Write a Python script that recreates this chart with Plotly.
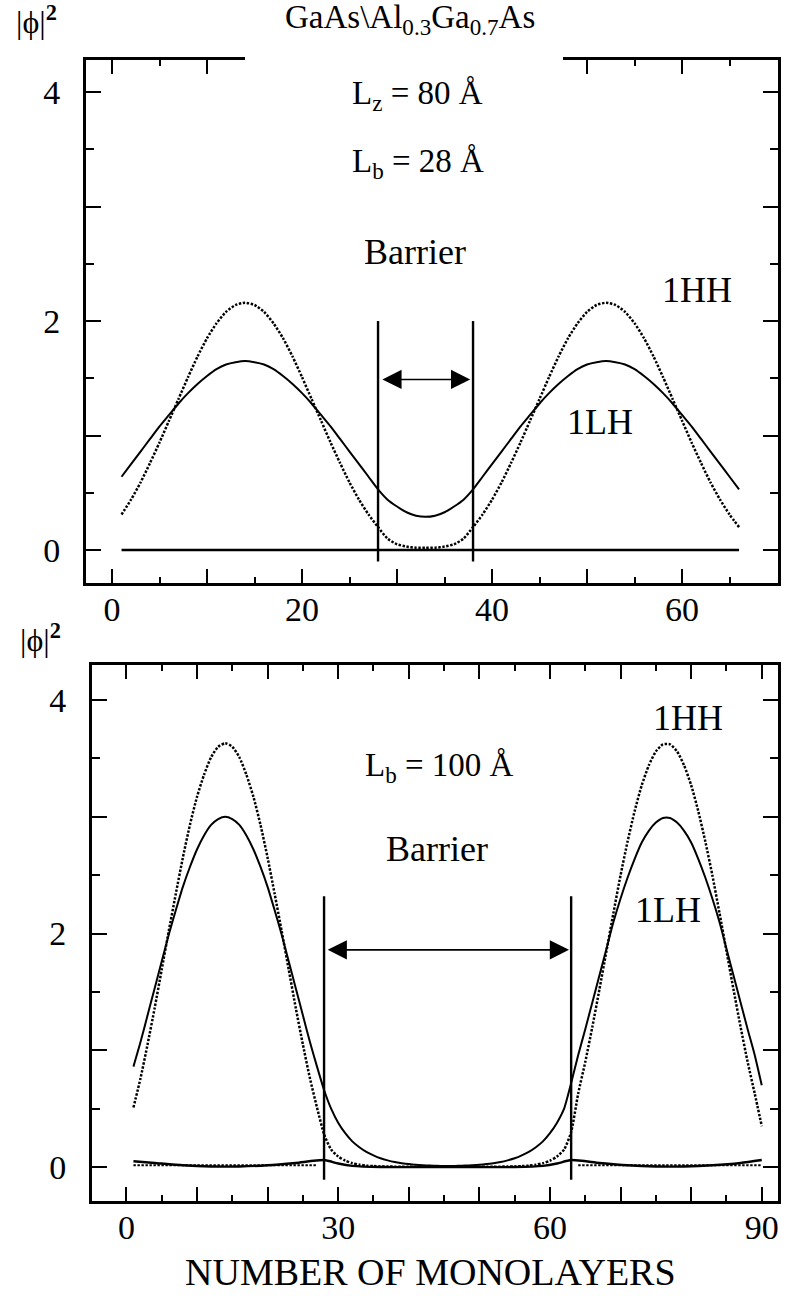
import plotly.graph_objects as go

# ---------------- data ----------------
top_x = list(range(1, 67))
top_lh = [0.64,0.75,0.86,0.97,1.08,1.18,1.28,1.37,1.45,1.52,1.58,1.62,1.64,1.65,1.64,1.62,1.58,1.52,1.45,1.37,1.28,1.18,1.08,0.97,0.86,0.75,0.64,0.53,
          0.44,0.38,0.33,0.30,0.29,0.30,0.33,0.38,0.44,
          0.53,0.64,0.75,0.86,0.97,1.08,1.18,1.28,1.37,1.45,1.52,1.58,1.62,1.64,1.65,1.64,1.62,1.58,1.52,1.45,1.37,1.28,1.18,1.08,0.97,0.86,0.75,0.64,0.53]
top_hh = [0.31,0.44,0.59,0.76,0.94,1.13,1.32,1.51,1.69,1.85,1.98,2.08,2.14,2.16,2.14,2.08,1.98,1.85,1.69,1.51,1.32,1.13,0.94,0.76,0.59,0.44,0.31,0.20,
          0.10,0.05,0.03,0.02,0.02,0.02,0.03,0.05,0.10,
          0.20,0.31,0.44,0.59,0.76,0.94,1.13,1.32,1.51,1.69,1.85,1.98,2.08,2.14,2.16,2.14,2.08,1.98,1.85,1.69,1.51,1.32,1.13,0.94,0.76,0.59,0.44,0.31,0.20]
top_base_x = [1, 66]
top_base_y = [0.0, 0.0]
top_barrier_x = [28, 38]
top_barrier_y = [-0.1, 2.0]
top_arrow_y = 1.49

bot_x = list(range(1, 91))
bot_lh = [0.86,1.07,1.30,1.53,1.76,1.99,2.20,2.40,2.57,2.72,2.84,2.93,2.98,3.00,2.98,2.93,2.84,2.72,2.57,2.40,2.20,1.99,1.76,1.53,1.30,1.07,0.86,0.66,
          0.50,0.38,0.29,0.22,0.17,0.13,0.10,0.075,0.057,0.043,0.033,0.025,0.019,0.015,0.012,0.010,0.009,
          0.009,0.010,0.012,0.015,0.019,0.025,0.033,0.043,0.057,0.075,0.10,0.13,0.17,0.22,0.29,0.38,0.50,
          0.72,0.96,1.18,1.41,1.64,1.87,2.10,2.30,2.48,2.64,2.78,2.88,2.95,2.99,2.99,2.95,2.88,2.78,2.64,2.48,2.30,2.10,1.87,1.64,1.41,1.18,0.96,0.70]
bot_hh = [0.51,0.76,1.05,1.36,1.69,2.02,2.34,2.65,2.93,3.17,3.36,3.51,3.60,3.63,3.60,3.51,3.36,3.17,2.93,2.65,2.34,2.02,1.69,1.36,1.05,0.76,0.51,0.28,
          0.15,0.09,0.055,0.033,0.02,0.012,0.008,0.005,0.004,
          0.003,0.003,0.003,0.003,0.003,0.003,0.003,0.003,0.003,0.003,0.003,0.003,0.003,0.003,0.003,0.003,
          0.004,0.005,0.008,0.012,0.02,0.033,0.055,0.09,0.15,
          0.30,0.63,0.90,1.20,1.52,1.85,2.18,2.50,2.79,3.05,3.27,3.44,3.56,3.62,3.62,3.56,3.44,3.27,3.05,2.79,2.50,2.18,1.85,1.52,1.20,0.90,0.63,0.35]
bot_base_x = [1, 4, 8, 12, 16, 20, 24, 28, 30, 32, 36, 45, 55, 59, 61, 63, 67, 71, 75, 79, 83, 87, 90]
bot_base_y = [0.05, 0.035, 0.015, 0.005, 0.005, 0.015, 0.035, 0.06, 0.03, 0.01, 0.0, 0.0, 0.0, 0.01, 0.03, 0.06, 0.035, 0.015, 0.005, 0.005, 0.015, 0.035, 0.06]
bot_dbase_x = [1, 27, None, 64, 90]
bot_dbase_y = [0.015, 0.015, None, 0.015, 0.015]
bot_barrier_x = [28, 63]
bot_barrier_y = [-0.11, 2.32]
bot_arrow_y = 1.86

top_xticks = [0, 10, 20, 30, 40, 50, 60]
top_xlabels = ["0", "", "20", "", "40", "", "60"]
bot_xticks = [0, 10, 20, 30, 40, 50, 60, 70, 80, 90]
bot_xlabels = ["0", "", "", "30", "", "", "60", "", "", "90"]
yticks = [0, 1, 2, 3, 4]
ylabels = ["0", "", "2", "", "4"]

FONT = "Liberation Serif, Times New Roman, DejaVu Serif, serif"
W, H = 792, 1296
DOT = "2.4px,1.6px"

fig = go.Figure()

def add_panel(xa, ya, x, lh, hh, bx, by, barx, bary):
    fig.add_trace(go.Scatter(x=x, y=hh, mode="lines", line=dict(color="black", width=2.5, dash=DOT, shape="spline", smoothing=0.6),
                             xaxis=xa, yaxis=ya, showlegend=False))
    fig.add_trace(go.Scatter(x=x, y=lh, mode="lines", line=dict(color="black", width=2.0, shape="spline", smoothing=0.6),
                             xaxis=xa, yaxis=ya, showlegend=False))
    fig.add_trace(go.Scatter(x=bx, y=by, mode="lines", line=dict(color="black", width=2.4, shape="spline", smoothing=0.6),
                             xaxis=xa, yaxis=ya, showlegend=False))
    for bxv in barx:
        fig.add_trace(go.Scatter(x=[bxv, bxv], y=bary, mode="lines", line=dict(color="black", width=2.4),
                                 xaxis=xa, yaxis=ya, showlegend=False))

add_panel("x", "y", top_x, top_lh, top_hh, top_base_x, top_base_y, top_barrier_x, top_barrier_y)
add_panel("x2", "y2", bot_x, bot_lh, bot_hh, bot_base_x, bot_base_y, bot_barrier_x, bot_barrier_y)
fig.add_trace(go.Scatter(x=bot_dbase_x, y=bot_dbase_y, mode="lines", line=dict(color="black", width=2.2, dash=DOT),
                         xaxis="x2", yaxis="y2", showlegend=False))

def px(xp):
    return xp / W

def py(yp):
    return 1 - yp / H

tickfont = dict(family=FONT, size=34, color="black")

def xaxis_cfg(dom, rng, tv, tt, anchor):
    return dict(domain=dom, range=rng, anchor=anchor, tickmode="array", tickvals=tv, ticktext=tt,
                ticks="inside", ticklen=14, tickwidth=2, tickcolor="black",
                minor=dict(tickvals=[v + 5 for v in tv], ticks="inside", ticklen=6, tickwidth=2, tickcolor="black", showgrid=False),
                showline=True, linewidth=3, linecolor="black", mirror="ticks", showgrid=False, zeroline=False,
                tickfont=tickfont, ticklabelstandoff=-6)

def yaxis_cfg(dom, rng, anchor):
    return dict(domain=dom, range=rng, anchor=anchor, tickmode="array", tickvals=yticks, ticktext=ylabels,
                ticks="inside", ticklen=15, tickwidth=2, tickcolor="black",
                minor=dict(tickvals=[0.5, 1.5, 2.5, 3.5], ticks="inside", ticklen=8, tickwidth=2, tickcolor="black", showgrid=False),
                showline=True, linewidth=3, linecolor="black", mirror="ticks", showgrid=False, zeroline=False,
                tickfont=tickfont, ticklabelstandoff=16)

fig.update_layout(
    width=W, height=H, margin=dict(l=0, r=0, t=0, b=0),
    paper_bgcolor="white", plot_bgcolor="white",
    xaxis=xaxis_cfg([px(86), px(778)], [-2.74, 70.1], top_xticks, top_xlabels, "y"),
    yaxis=yaxis_cfg([py(583), py(60)], [-0.288, 4.28], "x"),
    xaxis2=xaxis_cfg([px(92), px(778)], [-4.87, 92.3], bot_xticks, bot_xlabels, "y2"),
    yaxis2=yaxis_cfg([py(1201), py(665)], [-0.291, 4.30], "x2"),
    font=dict(family=FONT, color="black"),
)

# gap in the top border of the upper panel (title sits there)
fig.add_shape(type="rect", xref="paper", yref="paper", x0=px(245), x1=px(563), y0=py(80), y1=py(45),
              fillcolor="white", line=dict(width=0), layer="above")

def font(s):
    return dict(family=FONT, size=s, color="black")

def note(text, x, y, xref, yref, size):
    return dict(text=text, xref=xref, yref=yref, x=x, y=y, showarrow=False, font=font(size),
                xanchor="center", yanchor="middle")

ann = []
ann.append(note("GaAs\\Al<sub>0.3</sub>Ga<sub>0.7</sub>As", px(410), py(19), "paper", "paper", 33))
ann.append(note("|ϕ|<sup><b>2</b></sup>", px(36), py(20), "paper", "paper", 32))
ann.append(note("|ϕ|<sup><b>2</b></sup>", px(40), py(638), "paper", "paper", 32))
ann.append(note("NUMBER OF MONOLAYERS", px(430), py(1272), "paper", "paper", 38))
# top panel
ann.append(note("L<sub>z</sub> = 80 Å", 32.2, 3.97, "x", "y", 33))
ann.append(note("L<sub>b</sub> = 28 Å", 32.2, 3.38, "x", "y", 33))
ann.append(note("Barrier", 31.9, 2.60, "x", "y", 36))
ann.append(note("1HH", 61.6, 2.27, "x", "y", 36))
ann.append(note("1LH", 51.4, 1.12, "x", "y", 36))
# bottom panel
ann.append(note("L<sub>b</sub> = 100 Å", 44.4, 3.42, "x2", "y2", 33))
ann.append(note("Barrier", 44.0, 2.72, "x2", "y2", 36))
ann.append(note("1HH", 79.6, 3.85, "x2", "y2", 36))
ann.append(note("1LH", 76.7, 2.20, "x2", "y2", 36))
# double arrows between barrier lines
ann.append(dict(text="", xref="x", yref="y", axref="x", ayref="y", x=top_barrier_x[1] - 0.3, y=top_arrow_y,
                ax=top_barrier_x[0] + 0.3, ay=top_arrow_y, showarrow=True, arrowhead=2, startarrowhead=2,
                arrowside="end+start", arrowsize=2.4, startarrowsize=2.4, arrowwidth=1.6, arrowcolor="black"))
ann.append(dict(text="", xref="x2", yref="y2", axref="x2", ayref="y2", x=bot_barrier_x[1] - 0.3, y=bot_arrow_y,
                ax=bot_barrier_x[0] + 0.3, ay=bot_arrow_y, showarrow=True, arrowhead=2, startarrowhead=2,
                arrowside="end+start", arrowsize=2.4, startarrowsize=2.4, arrowwidth=1.6, arrowcolor="black"))
fig.update_layout(annotations=ann)

fig.write_html("out.html")
